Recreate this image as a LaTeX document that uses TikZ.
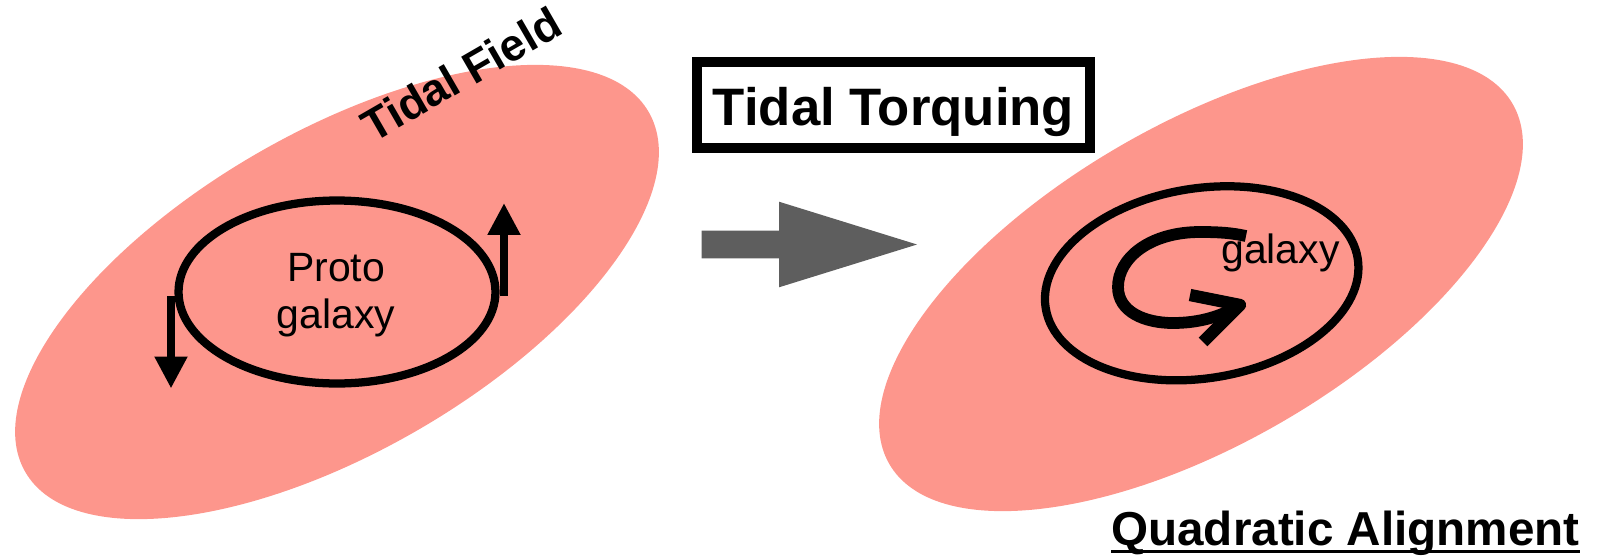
\documentclass[tikz,border=0pt]{standalone}
\usepackage{fontspec}
\setmainfont{Liberation Sans}
\usetikzlibrary{arrows.meta,shapes.geometric}
\definecolor{salmon}{RGB}{253,150,140}
\definecolor{arrowgray}{RGB}{94,94,94}
\begin{document}
\begin{tikzpicture}[x=0.02cm,y=-0.02cm,
  tidal/.style={ellipse,fill=salmon,draw=none,minimum width=14.4cm,minimum height=6.4cm,inner sep=0pt,rotate=30},
  galring/.style={ellipse,draw=black,line width=4.7pt,inner sep=0pt},
  spin/.style={line width=4.85pt,-{Triangle[length=0.64cm,width=0.62cm]}},
  lbl/.style={inner sep=0pt,text=black},
  curl/.style={line width=6.7pt},
  titlebox/.style={draw=black,line width=5.69pt,minimum width=7.86cm,minimum height=1.74cm,inner sep=0pt}]
\useasboundingbox (0,0) rectangle (1602,558);

% tidal fields
\node[tidal] (tfl) at (337,292) {};
\node[tidal] (tfr) at (1201,284) {};

% left proto galaxy
\node[galring,minimum width=6.34cm,minimum height=3.66cm] (pg) at (337,292) {};
\node[lbl,align=center,font=\fontsize{23.3pt}{26.4pt}\selectfont] (pgt) at (336,295) {Proto\\galaxy};
\coordinate (upS) at (504,296);
\coordinate (upT) at (504,203);
\coordinate (dnS) at (171,296);
\coordinate (dnT) at (171,388.5);
\draw[spin] (upS) -- (upT);
\draw[spin] (dnS) -- (dnT);

% Tidal Field label
\node[lbl,rotate=30,font=\bfseries\fontsize{25.6pt}{30pt}\selectfont] (tfx) at (461,74) {Tidal Field};

% title box
\node[titlebox] (ttbox) at (893.5,105) {};
\node[lbl,anchor=base,font=\bfseries\fontsize{30pt}{34pt}\selectfont] (ttl) at (893.5,125) {Tidal Torquing};

% big gray arrow
\fill[arrowgray] (701.7,230.7) -- (779,230.7) -- (779,201.7) -- (917,244.5)
   -- (779,287.3) -- (779,258.3) -- (701.7,258.3) -- cycle;

% right galaxy
\node[galring,minimum width=6.32cm,minimum height=3.8cm,rotate=9] (gr) at (1201.7,283.3) {};
\node[lbl,anchor=base west,font=\fontsize{23.3pt}{28pt}\selectfont] (gl) at (1221,263) {galaxy};
\draw[curl] (1246,236) .. controls (1232,233) and (1220,232) .. (1200,232)
   .. controls (1150,232) and (1118,258) .. (1118,287)
   .. controls (1118,312) and (1145,323) .. (1173,323)
   .. controls (1200,323) and (1222,316) .. (1240,305);
\draw[curl,line width=7pt,line join=round] (1190,295) -- (1240,305) -- (1203,342);

% Quadratic Alignment
\node[lbl,anchor=base west,font=\bfseries\fontsize{27.1pt}{32pt}\selectfont] (qa) at (1111,545) {Quadratic Alignment};
\draw[line width=1.7pt] ([yshift=-0.12cm]qa.base west) -- ([yshift=-0.12cm]qa.base east);
\end{tikzpicture}
\end{document}
